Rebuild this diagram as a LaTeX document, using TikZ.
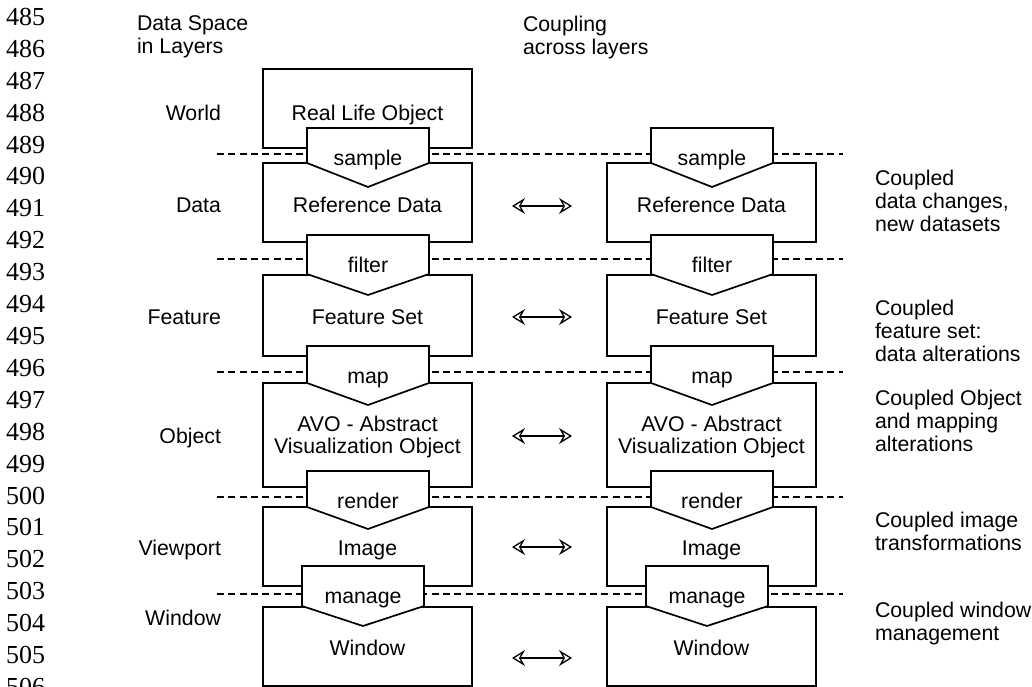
\documentclass[tikz,border=0pt]{standalone}
\usepackage{fontspec}
\setmainfont{Liberation Sans}
\newfontfamily\lnfont{Liberation Serif}
\usetikzlibrary{arrows.meta}
\begin{document}
\begin{tikzpicture}[x=1pt,y=-1pt,
  every node/.style={inner sep=0pt, outer sep=0pt, font=\fontsize{21.3}{22.7}\selectfont},
  boxnode/.style={draw, line width=1.7pt, minimum width=209pt},
  pent/.style={draw, fill=white, line width=1.7pt, line join=miter},
  sep/.style={line width=1.6pt, dash pattern=on 7pt off 4.3pt},
  cpl/.style={line width=1.3pt, {Stealth[open,length=13pt,width=16pt,inset=4.5pt]}-{Stealth[open,length=13pt,width=16pt,inset=4.5pt]}},
  txt/.style={anchor=base},
  lay/.style={anchor=base east},
  note/.style={anchor=north west, align=left},
  lnum/.style={anchor=base west, font=\lnfont\fontsize{26}{26}\selectfont}]

\useasboundingbox (0,0) rectangle (1032,687);

% line numbers
\foreach \k in {0,...,21} {
  \pgfmathtruncatemacro\lnn{485+\k}
  \node[lnum] (ln\lnn) at (6,{25.5+31.9*\k}) {\lnn};
}

% headers
\node[note] (hdrL) at (137,16) {Data Space\\in Layers};
\node[note] (hdrR) at (523,16) {Coupling\\across layers};

% dashed layer separators
\foreach \dy [count=\i] in {154,259,372,497,594} {
  \coordinate (dsL\i) at (217,\dy);
  \coordinate (dsR\i) at (843,\dy);
  \draw[sep] (dsL\i) -- (dsR\i);
}

% boxes
\node[boxnode, minimum height=79pt] (worldL) at (367.5,108.5) {};
\foreach \off/\sd in {0/L,344/R} {
  \node[boxnode, minimum height=79pt]  (data\sd)  at ({367.5+\off},202.5) {};
  \node[boxnode, minimum height=81pt]  (feat\sd)  at ({367.5+\off},315.5) {};
  \node[boxnode, minimum height=104pt] (avo\sd)   at ({367.5+\off},435) {};
  \node[boxnode, minimum height=79pt]  (img\sd)   at ({367.5+\off},546.5) {};
  \node[boxnode, minimum height=79pt]  (win\sd)   at ({367.5+\off},646.5) {};
}

% pentagons (operations)
\foreach \off/\sd in {0/L,344/R} {
  \foreach \cx/\tp/\cn/\pt/\lab/\nm in {368/128/163/187/sample/sa, 368/235/274/295/filter/fi, 368/346/383/405/map/ma, 368/471/507/529/render/re, 363/566/606/626/manage/mg} {
    \draw[pent] ({\cx+\off-61},\tp) -- ({\cx+\off+61},\tp) -- ({\cx+\off+61},\cn) -- ({\cx+\off},\pt) -- ({\cx+\off-61},\cn) -- cycle;
    \node[txt] (\nm\sd) at ({\cx+\off},{\tp+37.5}) {\lab};
  }
}

% box texts
\node[txt] (rloL) at (367.5,120.5) {Real Life Object};
\foreach \off/\sd in {0/L,344/R} {
  \node[txt] (rdt\sd) at ({367.5+\off},212.7) {Reference Data};
  \node[txt] (fst\sd) at ({367.5+\off},324.7) {Feature Set};
  \node[align=center] (avt\sd) at ({367.5+\off},437) {AVO - Abstract\\Visualization Object};
  \node[txt] (imt\sd) at ({367.5+\off},555.5) {Image};
  \node[txt] (wnt\sd) at ({367.5+\off},655.5) {Window};
}

% layer labels
\node[lay] (lWorld) at (221,120.7) {World};
\node[lay] (lData) at (221,212.7) {Data};
\node[lay] (lFeature) at (221,324.7) {Feature};
\node[lay] (lObject) at (221,443.5) {Object};
\node[lay] (lViewport) at (221,555) {Viewport};
\node[lay] (lWindow) at (221,625) {Window};

% coupling arrows
\foreach \ay [count=\i] in {206,317,436,547,658} {
  \coordinate (cpA\i) at (512,\ay);
  \coordinate (cpB\i) at (572,\ay);
  \draw[cpl] (cpA\i) -- (cpB\i);
}

% coupling notes
\node[note] (n1) at (875,170.5) {Coupled\\data changes,\\new datasets};
\node[note] (n2) at (875,300.5) {Coupled\\feature set:\\data alterations};
\node[note] (n3) at (875,390.5) {Coupled Object\\and mapping\\alterations};
\node[note] (n4) at (875,512.5) {Coupled image\\transformations};
\node[note] (n5) at (875,602.5) {Coupled window\\management};
\end{tikzpicture}
\end{document}
